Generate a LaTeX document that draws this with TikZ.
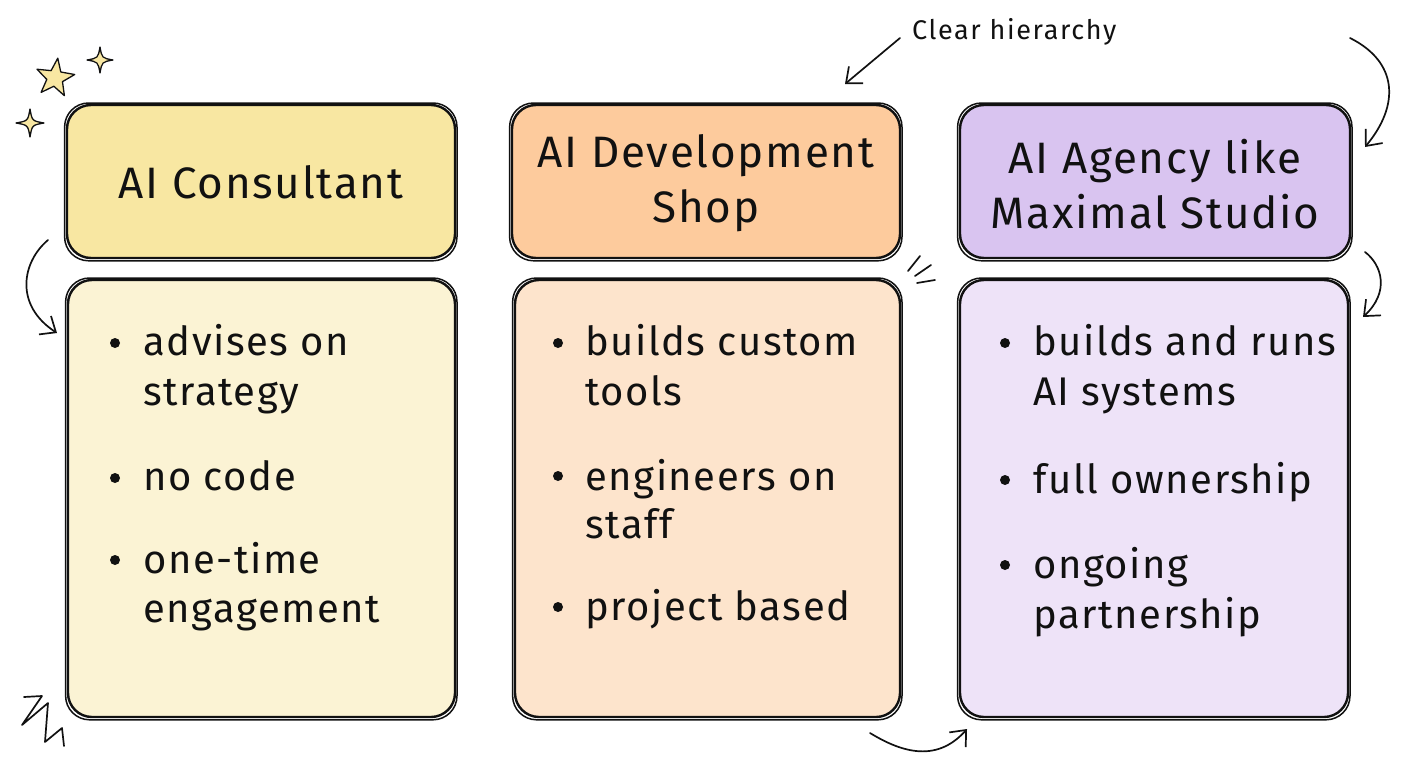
\documentclass[tikz,border=0pt]{standalone}
\usepackage{fontspec}
\setmainfont{Fira Sans}
\usetikzlibrary{arrows.meta,shapes.geometric}
\definecolor{hY}{HTML}{F8E7A2}
\definecolor{bY}{HTML}{FBF3D4}
\definecolor{hO}{HTML}{FDCB9D}
\definecolor{bO}{HTML}{FDE4CC}
\definecolor{hP}{HTML}{D9C4F0}
\definecolor{bP}{HTML}{EEE3F8}
\definecolor{ink}{HTML}{111111}
\tikzset{
  card/.style={draw=ink, line width=2.4pt, rounded corners=24pt, inner sep=0pt},
  cardline/.style={draw=ink, line width=1.5pt, rounded corners=24pt},
  head/.style={font=\fontsize{44}{55}\selectfont\addfontfeatures{LetterSpace=4}, align=center, text=ink},
  item/.style={font=\fontsize{40}{48}\selectfont\addfontfeatures{LetterSpace=4}, anchor=base west, inner sep=0pt, text=ink},
  dot/.style={circle, fill=ink, minimum size=10pt, inner sep=0pt},
  sk/.style={draw=ink, line width=1.7pt, line cap=round, line join=round},
  arr/.style={sk, -{Straight Barb[length=13pt,width=22pt,line width=1.7pt]}},
  starfill/.style={draw=ink, line width=1.3pt, fill=hY, line join=round},
  sparkle/.pic={\path[starfill] (0,-1) .. controls (0.15,-0.15) .. (1,0) .. controls (0.15,0.15) .. (0,1) .. controls (-0.15,0.15) .. (-1,0) .. controls (-0.15,-0.15) .. (0,-1) -- cycle;}
}
\begin{document}
\begin{tikzpicture}[x=1pt,y=-1pt]
\useasboundingbox[fill=white] (0,0) rectangle (1408,768);

% cards
\node[card, fill=hY, minimum width=388pt, minimum height=153pt] (h1) at (261,181.5) {};
\node[card, fill=hO, minimum width=388pt, minimum height=153pt] (h2) at (706,181.5) {};
\node[card, fill=hP, minimum width=390pt, minimum height=153pt] (h3) at (1155,181.5) {};
\node[card, fill=bY, minimum width=387pt, minimum height=437pt] (b1) at (261.5,498.5) {};
\node[card, fill=bO, minimum width=385pt, minimum height=437pt] (b2) at (707.5,498.5) {};
\node[card, fill=bP, minimum width=388pt, minimum height=437pt] (b3) at (1154,498.5) {};
\foreach \n in {h1,h2,h3,b1,b2,b3}{
  \draw[cardline] ([shift={(-1.2,-0.8)}]\n.north west) rectangle ([shift={(0.8,1.6)}]\n.south east);
}

% headers
\node[head] (t1) at (261,182) {AI Consultant};
\node[head] (t2) at (706,183) {AI Development\\Shop};
\node[head] (t3) at (1155,184) {AI Agency like\\Maximal Studio};

% body 1
\node[dot] (d11) at (115,343) {};
\node[item] (i11a) at (143,355) {advises on};
\node[item] (i11b) at (143,405) {strategy};
\node[dot] (d12) at (115,478) {};
\node[item] (i12a) at (143,490) {no code};
\node[dot] (d13) at (115,560) {};
\node[item] (i13a) at (143,573) {one-time};
\node[item] (i13b) at (143,622) {engagement};
% body 2
\node[dot] (d21) at (558,343) {};
\node[item] (i21a) at (585,355) {builds custom};
\node[item] (i21b) at (585,405) {tools};
\node[dot] (d22) at (558,476) {};
\node[item] (i22a) at (585,490) {engineers on};
\node[item] (i22b) at (585,538) {staff};
\node[dot] (d23) at (558,607) {};
\node[item] (i23a) at (585,620) {project based};
% body 3
\node[dot] (d31) at (1005,343) {};
\node[item] (i31a) at (1033,355) {builds and runs};
\node[item] (i31b) at (1033,405) {AI systems};
\node[dot] (d32) at (1005,480) {};
\node[item] (i32a) at (1033,493) {full ownership};
\node[dot] (d33) at (1005,565) {};
\node[item] (i33a) at (1033,578) {ongoing};
\node[item] (i33b) at (1033,628) {partnership};

% annotation
\node[font=\fontsize{27}{30}\selectfont\addfontfeatures{LetterSpace=6}, anchor=west, inner sep=0pt, text=ink] (clear) at (912,32) {Clear hierarchy};
\coordinate (ca) at (900,38);
\coordinate (cb) at (845,84);
\draw[arr] (ca) -- (cb);

% decorative arrows
\coordinate (ra1) at (1350,38);
\coordinate (ra2) at (1365,147);
\draw[arr] (ra1) .. controls (1398,62) and (1400,105) .. (ra2);
\coordinate (la1) at (48,240);
\coordinate (la2) at (57,333);
\draw[arr] (la1) .. controls (22,262) and (14,305) .. (la2);
\coordinate (sa1) at (1365,252);
\coordinate (sa2) at (1363,317);
\draw[arr] (sa1) .. controls (1382,265) and (1390,292) .. (sa2);
\coordinate (ba1) at (870,733);
\coordinate (ba2) at (967,729);
\draw[arr] (ba1) .. controls (898,750) and (935,765) .. (ba2);

% ticks
\coordinate (k1a) at (908,271); \coordinate (k1b) at (920,256);
\coordinate (k2a) at (915,276); \coordinate (k2b) at (931,265);
\coordinate (k3a) at (917,283); \coordinate (k3b) at (935,280);
\draw[sk] (k1a) -- (k1b);
\draw[sk] (k2a) -- (k2b);
\draw[sk] (k3a) -- (k3b);

% squiggle
\draw[sk] (24,697) -- (42,696) -- (22,725) -- (48,703) -- (45,742) -- (62,728) -- (64,746);

% stars
\node[star, star points=5, star point ratio=2.4, minimum size=40pt, inner sep=0pt, starfill, rotate=-8] (bigstar) at (55,78) {};
\pic[scale=13] (sp1) at (100,60) {sparkle};
\pic[scale=14] (sp2) at (30,123) {sparkle};
\end{tikzpicture}
\end{document}
